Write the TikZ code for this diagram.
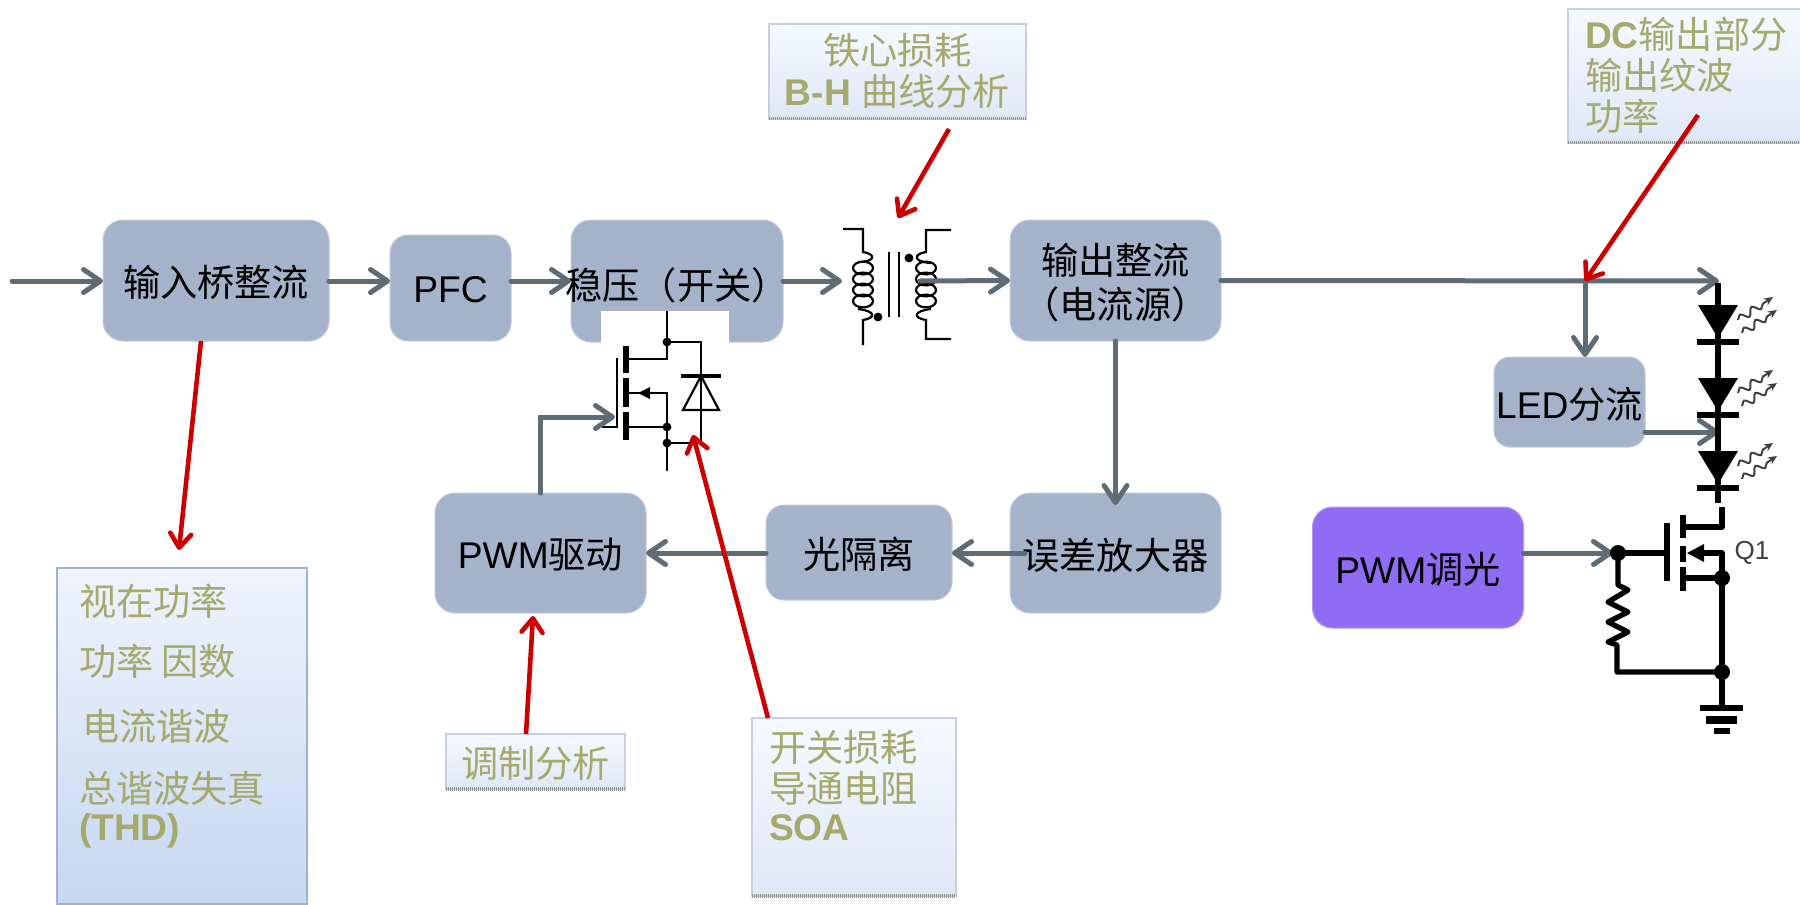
\documentclass[tikz,border=0pt]{standalone}
\usepackage{fontspec}
\usepackage{xcolor}
\setmainfont{Liberation Sans}
\newfontfamily\cjk{Noto Sans CJK SC}
\usetikzlibrary{arrows.meta,calc,decorations.pathmorphing}
\definecolor{blockfill}{HTML}{A4B2CA}
\definecolor{blockedge}{HTML}{BFCADC}
\definecolor{dimfill}{HTML}{8F6CF3}
\definecolor{wiregray}{HTML}{5F6C75}
\definecolor{notered}{HTML}{CC0000}
\definecolor{noteolive}{HTML}{A5A96B}
\definecolor{noteedge}{HTML}{C6D0E0}
\definecolor{thdedge}{HTML}{9FB3D0}
\definecolor{notetop}{HTML}{F6F9FF}
\definecolor{notebot}{HTML}{DFE8F7}
\definecolor{thdtop}{HTML}{EFF4FD}
\definecolor{thdbot}{HTML}{C6D7F1}
\newcommand{\dn}[1]{\raisebox{-1pt}[\height][\depth]{#1}}
\newcommand{\zh}[1]{\dn{\cjk #1}}
\newcommand{\lat}[1]{{\bfseries #1}}
\tikzset{
  blockbox/.style={draw=blockedge,fill=blockfill,line width=0.5pt,rounded corners=10pt,
                   align=center,inner sep=0pt,outer sep=0pt,
                   font=\fontsize{18.6pt}{22pt}\selectfont},
  notebox/.style={draw=noteedge,line width=1pt,top color=notetop,
                  bottom color=notebot,inner sep=0pt,outer sep=0pt},
  thdbox/.style={draw=thdedge,line width=1pt,top color=thdtop,
                 bottom color=thdbot,inner sep=0pt,outer sep=0pt},
  notetext/.style={text=noteolive,inner sep=0pt,outer sep=0pt,align=left,
                   font=\fontsize{18.6pt}{20.5pt}\selectfont},
  noteshade/.style={draw=gray!85,line width=1.8pt,dash pattern=on 0.6pt off 0.4pt},
  grayarr/.style={-{Straight Barb[length=8.5pt,width=11.5pt,round]},line width=2.5pt,
                  draw=wiregray,line cap=round},
  redarr/.style={-{Straight Barb[length=7pt,width=10.5pt,round]},line width=2.3pt,
                 draw=notered},
  thinwire/.style={line width=1.1pt,draw=black},
  thickwire/.style={line width=2.6pt,draw=black,line join=round},
  glowarr/.style={-{Stealth[length=4.5pt,width=4pt]},line width=1pt,draw=black!75,
                  decorate,decoration={snake,amplitude=1.8pt,segment length=7pt,post length=4pt}}
}
\begin{document}
\begin{tikzpicture}[x=0.5pt,y=-0.5pt]
  \useasboundingbox (0,0) rectangle (1800,905);
  % blocks
  \node[blockbox,minimum width=113pt,minimum height=60.5pt] (inputbr) at (216,280.5) {\zh{输入桥整流}};
  \node[blockbox,minimum width=60.5pt,minimum height=53pt,rounded corners=9pt] (pfc) at (450.5,288) {\dn{PFC}};
  \node[blockbox,minimum width=106pt,minimum height=61pt] (stab) at (677,281)
    {\makebox[0pt]{\dn{\zh{稳压（开关）}}}};
  \fill[white] (601,311) rectangle (729,345);
  \node[blockbox,minimum width=105.5pt,minimum height=60.5pt] (outrect) at (1115.5,280.5)
    {\zh{输出整流}\\\zh{（电流源）}};
  \node[blockbox,minimum width=105.5pt,minimum height=60pt] (erramp) at (1115.5,553) {\zh{误差放大器}};
  \node[blockbox,minimum width=93pt,minimum height=47.5pt,rounded corners=9pt] (opto) at (859,552.5) {\zh{光隔离}};
  \node[blockbox,minimum width=105.5pt,minimum height=60pt] (driver) at (540.5,553) {\dn{PWM}\zh{驱动}};
  \node[blockbox,minimum width=105.5pt,minimum height=60.5pt,fill=dimfill,draw=dimfill!70!white] (dimmer) at (1418,567.5) {\dn{PWM}\zh{调光}};
  \node[blockbox,minimum width=75.5pt,minimum height=45pt,rounded corners=8pt] (shunt) at (1569.5,402) {\dn{LED}\zh{分流}};

  % free ends of connectors
  \coordinate (acin) at (12,281);
  \coordinate (xfmrin) at (842,281);
  \coordinate (xfmrout) at (920,281);
  \coordinate (gatein) at (615,417);
  \coordinate (ledtop) at (1719,281);
  \coordinate (ledmid) at (1719,432);
  \coordinate (branch) at (1585,281);
  \coordinate (dimgate) at (1613,553);

  % switch and diode
  \draw[thinwire] (667,311) -- (667,359) -- (626,359);
  \draw[thinwire] (667,342) -- (701,342) -- (701,443) -- (667,443);
  \draw[thinwire] (626,393) -- (667,393) -- (667,471);
  \draw[thinwire] (626,427) -- (667,427);
  \draw[thinwire] (617,358) -- (617,427) -- (602,427);
  \draw[line width=3pt] (626,346) -- (626,373) (626,378) -- (626,407) (626,412) -- (626,440);
  \fill (638,393) -- (650,387) -- (650,399) -- cycle;
  \fill (667,342) circle (2.2pt) (667,427) circle (2.2pt) (667,443) circle (2.2pt);
  \draw[line width=2.2pt] (681,376) -- (721,376);
  \draw[thinwire,fill=white] (701,376) -- (683,410) -- (719,410) -- cycle;
  \draw[thinwire] (701,376) -- (701,443);

  % transformer
  \draw[thinwire] (843,229) -- (863,229) -- (863,252) .. controls (876,254) and (876,262) .. (858,262);
  \draw[thinwire] (858,309) .. controls (876,311) and (876,318) .. (863,320) -- (863,345);
  \draw[thinwire] (951,230) -- (926,230) -- (926,252) .. controls (913,254) and (913,262) .. (931,263);
  \draw[thinwire] (931,309) .. controls (913,311) and (913,318) .. (926,320) -- (926,339) -- (951,339);
  \foreach \coily in {268,279,290,301} {
    \draw[thinwire] (863,\coily) ellipse (5pt and 3.2pt);
    \draw[thinwire] (926,\coily) ellipse (5pt and 3.2pt);
  }
  \draw[thinwire] (889,252) -- (889,317) (899,252) -- (899,317);
  \fill (878,317) circle (2.2pt) (909,258) circle (2.2pt);

  % main connectors
  \draw[grayarr] (acin) -- (inputbr.west |- acin);
  \draw[grayarr] (inputbr.east |- acin) -- (pfc.west |- acin);
  \draw[grayarr] (pfc.east |- acin) -- (stab.west);
  \draw[grayarr] (stab.east) -- (xfmrin);
  \draw[grayarr] (xfmrout) -- (outrect.west);
  \draw[grayarr] (outrect.east) -- (ledtop);
  \draw[grayarr] (branch) -- (branch |- shunt.north);
  \draw[grayarr] (shunt.east |- ledmid) -- (ledmid);
  \draw[grayarr] (outrect.south) -- (erramp.north |- 0,505);
  \draw[grayarr] (1025,553) -- (opto.east |- erramp);
  \draw[grayarr] (opto.west |- driver) -- (driver.east);
  \draw[grayarr] (driver.north) -- (driver.north |- gatein) -- (gatein);
  \draw[grayarr] (dimmer.east |- dimgate) -- (dimgate);

  % leds
  \draw[line width=3pt] (1718,283) -- (1718,503);
  \foreach \ledy in {0,73,146} {
    \fill (1698,305+\ledy) -- (1738,305+\ledy) -- (1718,338+\ledy) -- cycle;
    \draw[line width=2.6pt] (1697,342+\ledy) -- (1739,342+\ledy);
    \draw[glowarr] (1738,320+\ledy) -- (1773,297+\ledy);
    \draw[glowarr] (1742,333+\ledy) -- (1777,310+\ledy);
  }

  % dimming switch
  \draw[thickwire] (1618,553) -- (1667,553);
  \draw[thickwire] (1667,523) -- (1667,581);
  \draw[line width=3pt] (1683,515) -- (1683,538) (1683,546) -- (1683,562) (1683,567) -- (1683,591);
  \draw[thickwire] (1683,527) -- (1722,527) -- (1722,507);
  \draw[thickwire] (1700,553) -- (1722,553) -- (1722,708);
  \draw[thickwire] (1683,578) -- (1722,578);
  \fill (1687,553) -- (1704,544) -- (1704,562) -- cycle;
  \draw[thickwire] (1618,553) -- (1618,585) -- (1628,590) -- (1608,602) -- (1628,612) -- (1608,622)
    -- (1628,632) -- (1608,642) -- (1617,645) -- (1617,672) -- (1722,672);
  \fill (1618,553) circle (4pt) (1722,578) circle (4pt) (1722,672) circle (4pt);
  \draw[line width=3pt] (1700,708) -- (1743,708);
  \draw[line width=4pt] (1706,720) -- (1737,720);
  \draw[line width=3pt] (1714,731) -- (1730,731);
  \node[text=black!75,inner sep=0pt,font=\fontsize{13pt}{13pt}\selectfont] (qlabel) at (1752,553) {Q1};

  % notes
  \node[notebox,minimum width=128.5pt,minimum height=47.5pt] (corenote) at (897.5,71) {};
  \node[notetext,align=center] (coretext) at (897.5,69) {\zh{铁心损耗}\\\dn{\lat{B-H}} \zh{曲线分析}};
  \draw[noteshade] (corenote.south west) -- (corenote.south east);
  \node[notebox,minimum width=117.5pt,minimum height=67pt] (dcnote) at (1685.5,75.5) {};
  \node[notetext,anchor=north west] (dctext) at (1585,15) {\dn{\lat{DC}}\zh{输出部分}\\\zh{输出纹波}\\\zh{功率}};
  \draw[noteshade] (dcnote.south west) -- (dcnote.south east);
  \node[notebox,minimum width=89.5pt,minimum height=27.5pt] (modnote) at (535.5,761.5) {};
  \node[notetext] (modtext) at (535.5,761) {\zh{调制分析}};
  \draw[noteshade] (modnote.south west) -- (modnote.south east);
  \node[notebox,minimum width=102pt,minimum height=89pt] (socnote) at (854,807) {};
  \node[notetext,anchor=north west] (soctext) at (769,728) {\zh{开关损耗}\\\zh{导通电阻}\\[-0.5pt]\lat{SOA}};
  \draw[noteshade] (socnote.south west) -- (socnote.south east);
  \node[thdbox,minimum width=125pt,minimum height=168pt] (thdnote) at (182,736) {};
  \node[notetext,anchor=north west] (thdtext) at (79,582)
    {\zh{视在功率}\\[9.5pt]\zh{功率 因数}\\[12pt]\hspace{1.5pt}\zh{电流谐波}\\[10.5pt]\zh{总谐波失真}\\[-1.5pt]\dn{\lat{(THD)}}};

  % note arrows
  \coordinate (thdtip) at (179,550);
  \coordinate (coretail) at (949,129);
  \coordinate (coretip) at (898,218);
  \coordinate (dctail) at (1698,115);
  \coordinate (modtip) at (533,616);
  \coordinate (soctip) at (693,435);
  \draw[redarr] (inputbr.south -| 201,0) -- (thdtip);
  \draw[redarr] (coretail) -- (coretip);
  \draw[redarr] (dctail) -- (branch);
  \draw[redarr] (modnote.north -| 526,0) -- (modtip);
  \draw[redarr] (socnote.north -| 768,0) -- (soctip);
\end{tikzpicture}
\end{document}
